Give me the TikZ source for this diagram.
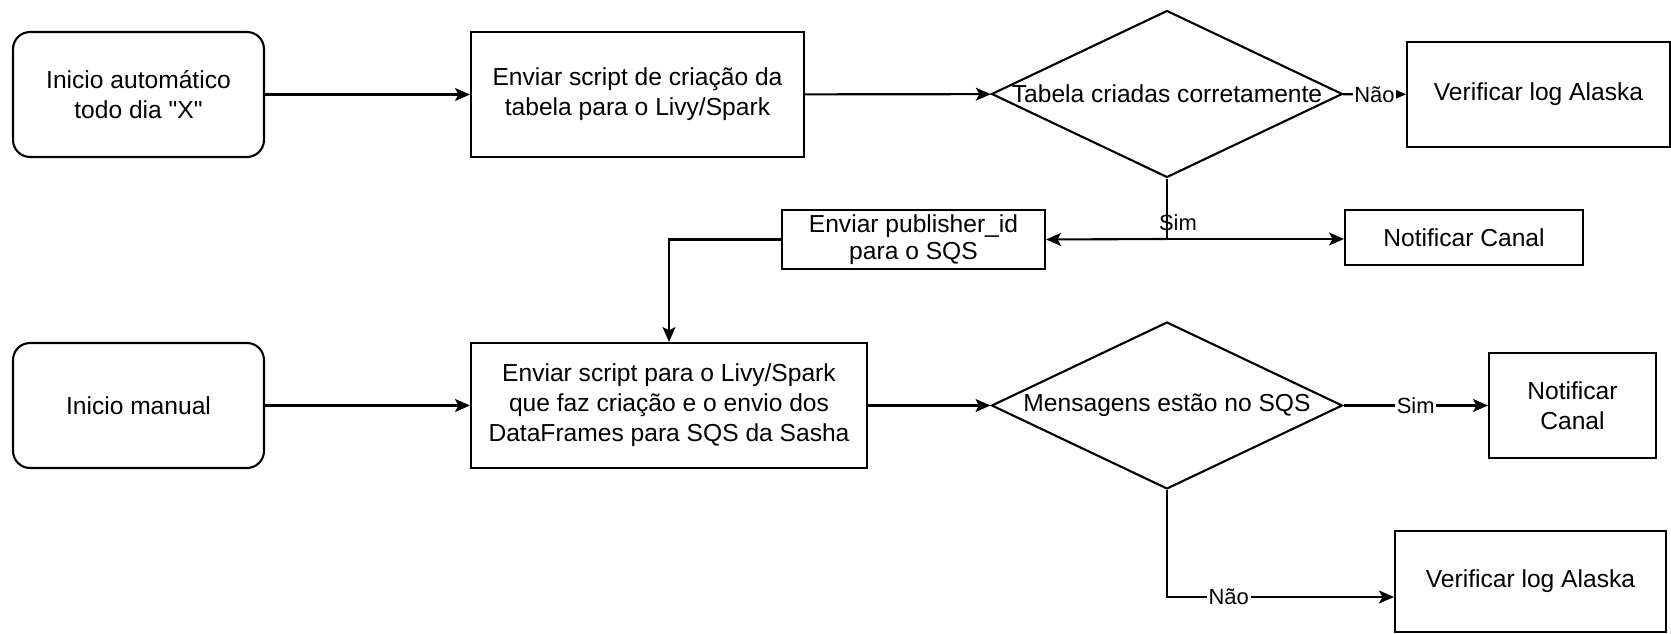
\documentclass[tikz,border=0pt]{standalone}
\usepackage{fontspec}
\setmainfont{Liberation Sans}[Ligatures=TeXOff]
\usetikzlibrary{shapes.geometric,arrows.meta}
\tikzstyle{line} = [draw, line width=1.2pt, -{Stealth[length=0.3cm,width=0.26cm,inset=0.07cm]}]
\tikzstyle{startbox} = [draw, line width=1.2pt, rounded corners=0.34cm, minimum width=5.02cm, minimum height=2.5cm, inner sep=0pt, align=center, font=\fontsize{14}{17}\selectfont]
\tikzstyle{procbox} = [draw, line width=1.2pt, inner sep=0pt, align=center, font=\fontsize{14}{17}\selectfont]
\tikzstyle{decision} = [draw, diamond, line width=1.2pt, minimum width=7.02cm, minimum height=3.34cm, inner sep=0pt]
\tikzstyle{dectext} = [inner sep=0pt, font=\fontsize{14}{17}\selectfont]
\tikzstyle{edgelabel} = [fill=white, inner sep=1pt, font=\fontsize{12.5}{15}\selectfont]

\begin{document}
\begin{tikzpicture}[x=0.02cm, y=-0.02cm]
    \useasboundingbox (0,0) rectangle (1671,634);
    % Top row: automatic start
    \node[startbox] (start1) at (138.5,94.5) {Inicio automático\\todo dia "X"};
    \node[procbox, minimum width=6.66cm, minimum height=2.5cm] (boxA) at (637.5,94.5) {Enviar script de criação da\\tabela para o Livy/Spark};
    \node[decision] (dec1) at (1167,94) {};
    \node[dectext] (dec1txt) at (dec1) {Tabela criadas corretamente};
    \node[procbox, minimum width=5.26cm, minimum height=2.1cm] (log1) at (1538.5,94.5) {Verificar log Alaska};
    % Middle row
    \node[procbox, minimum width=5.26cm, minimum height=1.18cm, font=\fontsize{14}{15.5}\selectfont] (pub) at (913.5,239.5) {Enviar publisher\_id\\para o SQS};
    \node[procbox, minimum width=4.76cm, minimum height=1.1cm] (notif1) at (1464,237.5) {Notificar Canal};
    \coordinate (simjoin) at (1167,239);
    % Bottom row: manual start
    \node[startbox] (start2) at (138.5,405.5) {Inicio manual};
    \node[procbox, minimum width=7.92cm, minimum height=2.5cm] (boxB) at (669,405.5) {Enviar script para o Livy/Spark\\que faz criação e o envio dos\\DataFrames para SQS da Sasha};
    \node[decision] (dec2) at (1167,405.5) {};
    \node[dectext] (dec2txt) at (dec2) {Mensagens estão no SQS};
    \node[procbox, minimum width=3.34cm, minimum height=2.1cm] (notif2) at (1572.5,405.5) {Notificar\\Canal};
    \node[procbox, minimum width=5.42cm, minimum height=2.02cm] (log2) at (1530.5,581.5) {Verificar log Alaska};
    % Connectors
    \draw[line] (start1) -- (boxA);
    \draw[line] (boxA) -- (dec1);
    \draw[line] (dec1) -- node[edgelabel] (nao1) {Não} (log1);
    \draw[line, -] (dec1.south) -- (simjoin) node[pos=0.73, xshift=0.22cm, inner sep=0pt, font=\fontsize{12.5}{15}\selectfont] (sim1) {Sim};
    \draw[line] (simjoin) -- (pub.east);
    \draw[line] (simjoin) -- (simjoin -| notif1.west);
    \draw[line] (pub.west) -| (boxB.north);
    \draw[line] (start2) -- (boxB);
    \draw[line] (boxB) -- (dec2);
    \draw[line] (dec2) -- node[edgelabel] (sim2) {Sim} (notif2);
    \draw[line] (dec2.south) |- node[edgelabel, pos=0.636] (nao2) {Não} ([yshift=-0.31cm]log2.west);
\end{tikzpicture}
\end{document}
